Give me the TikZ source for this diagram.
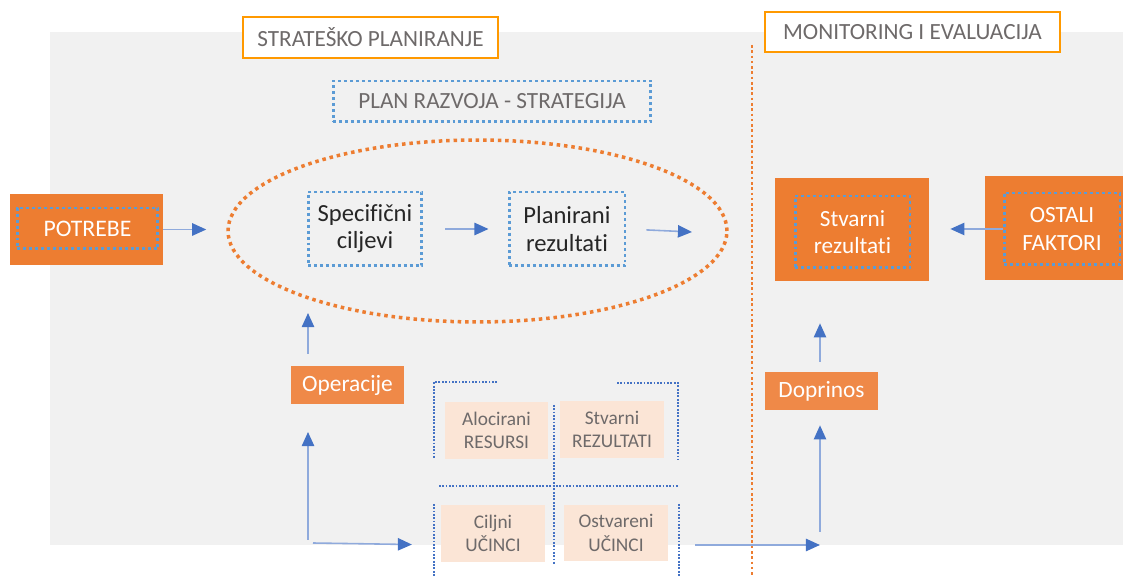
\documentclass[tikz,border=0pt]{standalone}
\usepackage{fontspec}
\setmainfont[Ligatures=NoCommon]{Carlito}
\usetikzlibrary{arrows.meta,shapes.geometric,positioning}
\definecolor{bggray}{RGB}{241,241,241}
\definecolor{orfill}{RGB}{237,125,49}
\definecolor{orlight}{RGB}{239,137,72}
\definecolor{orframe}{RGB}{255,153,0}
\definecolor{dotblue}{RGB}{91,155,213}
\definecolor{quadblue}{RGB}{68,114,196}
\definecolor{arrowline}{RGB}{143,170,220}
\definecolor{arrowhead}{RGB}{68,114,196}
\definecolor{peach}{RGB}{251,229,214}
\definecolor{txtgray}{RGB}{110,106,106}
\definecolor{txtdark}{RGB}{38,38,38}
\tikzset{
flow/.style={draw=arrowline, line width=0.9pt, -{Triangle[length=8pt,width=7pt,color=arrowhead]}}, % blue connectors
header/.style={draw=orframe, line width=1.6pt, fill=white, text=txtgray, inner sep=0pt,
  font=\fontsize{13.2}{15}\selectfont},
dotbox/.style={draw=dotblue, line width=1.7pt, dash pattern=on 1.7pt off 1.7pt, inner sep=0pt,
  align=center},
orbox/.style={fill=orfill, inner sep=0pt},
orsmall/.style={fill=orlight, text=white, inner sep=0pt, minimum width=2.26cm, minimum height=0.76cm,
  font=\fontsize{13.3}{15}\selectfont},
peachbox/.style={fill=peach, text=txtgray, inner sep=0pt, align=center, minimum width=2.07cm,
  minimum height=1.14cm, font=\fontsize{11}{13.2}\selectfont},
quadline/.style={draw=quadblue, line width=1pt, dash pattern=on 1pt off 0.9pt}
}

\begin{document}
\begin{tikzpicture}[x=0.02cm, y=-0.02cm]
    \useasboundingbox (0,0) rectangle (1123,577);
    \fill [bggray] (50,32) rectangle (1123,545);
    % headers
    \node [header, minimum width=5.1cm, minimum height=0.82cm] (strat) at (370.5,37.5) {STRATEŠKO PLANIRANJE};
    \draw [orfill, line width=1.5pt, dash pattern=on 1.5pt off 1.5pt] (752,45) -- (752,577);
    \node [header, minimum width=5.9cm, minimum height=0.8cm] (moni) at (912.5,32) {MONITORING I EVALUACIJA};
    \node [dotbox, text=txtgray, minimum width=6.36cm, minimum height=0.82cm,
      font=\fontsize{13.2}{15}\selectfont] (razvoj) at (492,101.5) {PLAN RAZVOJA - STRATEGIJA};
    % strategy ellipse
    \node [ellipse, draw=orfill, line width=2pt, dash pattern=on 2pt off 2.2pt,
      minimum width=9.98cm, minimum height=3.64cm] (plan) at (477.5,231) {};
    \node [dotbox, text=txtdark, minimum width=2.28cm, minimum height=1.48cm,
      font=\fontsize{14}{15.5}\selectfont] (ciljevi) at (365,229) {Specifični\\ciljevi};
    \node [dotbox, text=txtdark, minimum width=2.32cm, minimum height=1.48cm,
      font=\fontsize{14}{15.5}\selectfont] (planres) at (567,229) {Planirani\\rezultati};
    \coordinate (planout) at (692,232);
    % orange boxes
    \node [orbox, minimum width=3.06cm, minimum height=1.42cm] (potrebe) at (86.5,229.5) {};
    \node [dotbox, text=white, minimum width=2.82cm, minimum height=0.82cm,
      font=\fontsize{13.5}{15}\selectfont] (potrebein) at (87.5,228.5) {POTREBE};
    \node [orbox, minimum width=3.08cm, minimum height=2.06cm] (stvarni) at (852,229.5) {};
    \node [dotbox, text=white, minimum width=2.3cm, minimum height=1.44cm,
      font=\fontsize{13.2}{15.5}\selectfont] (stvarniin) at (852.5,232) {Stvarni\\rezultati};
    \node [orbox, minimum width=2.76cm, minimum height=2.08cm] (ostali) at (1054,228) {};
    \node [dotbox, text=white, minimum width=2.32cm, minimum height=1.44cm,
      font=\fontsize{13.2}{15.5}\selectfont] (ostaliin) at (1062,229) {OSTALI\\FAKTORI};
    \node [orsmall] (operacije) at (347.5,385) {Operacije};
    \node [orsmall] (doprinos) at (821.5,391) {Doprinos};
    % quadrant
    \node [peachbox] (resursi) at (496.5,430.5) {Alocirani\\RESURSI};
    \node [peachbox] (rezultati) at (612,429.5) {Stvarni\\REZULTATI};
    \node [peachbox] (ciljni) at (493,533.5) {Ciljni\\UČINCI};
    \node [peachbox] (ostvareni) at (616,533) {Ostvareni\\UČINCI};
    \draw [quadline] (497,382) -- (434,382) -- (434,459);
    \draw [quadline] (617,383) -- (678,383) -- (678,459);
    \draw [quadline] (439,486) -- (678,486);
    \draw [quadline] (554,405) -- (554,565);
    \draw [quadline] (434,504) -- (434,577);
    \draw [quadline] (679,504) -- (679,577);
    % connectors
    \coordinate (opup) at (308,354);
    \coordinate (opbase) at (308,540);
    \coordinate (opright) at (313,543);
    \coordinate (ostbase) at (695,545);
    \coordinate (dopbase) at (820,545);
    \coordinate (dopup) at (820,532);
    \draw [flow, shorten >=0.4cm] (potrebe.east) -- (potrebe.east -| plan.west);
    \draw [flow, shorten <=0.44cm, shorten >=0.38cm] (ciljevi.east) -- (planres.west);
    \draw [flow, shorten <=0.4cm] (planres.east) -- (planout);
    \draw [flow, shorten >=0.42cm] (ostaliin.west) -- (ostaliin.west -| stvarni.east);
    \draw [flow] (opup) -- (opup |- 0,313);
    \draw [flow] (opbase) -- (opbase |- 0,432);
    \draw [flow, shorten >=0.58cm] (opright) -- (ciljni.west |- 0,545);
    \draw [flow] (ostbase) -- (dopbase);
    \draw [flow, shorten >=0.3cm] (dopup) -- (dopup |- doprinos.south);
    \draw [flow, shorten <=0.2cm, shorten >=0.84cm] (doprinos.north -| dopup) -- (dopup |- stvarni.south);
\end{tikzpicture}
\end{document}
